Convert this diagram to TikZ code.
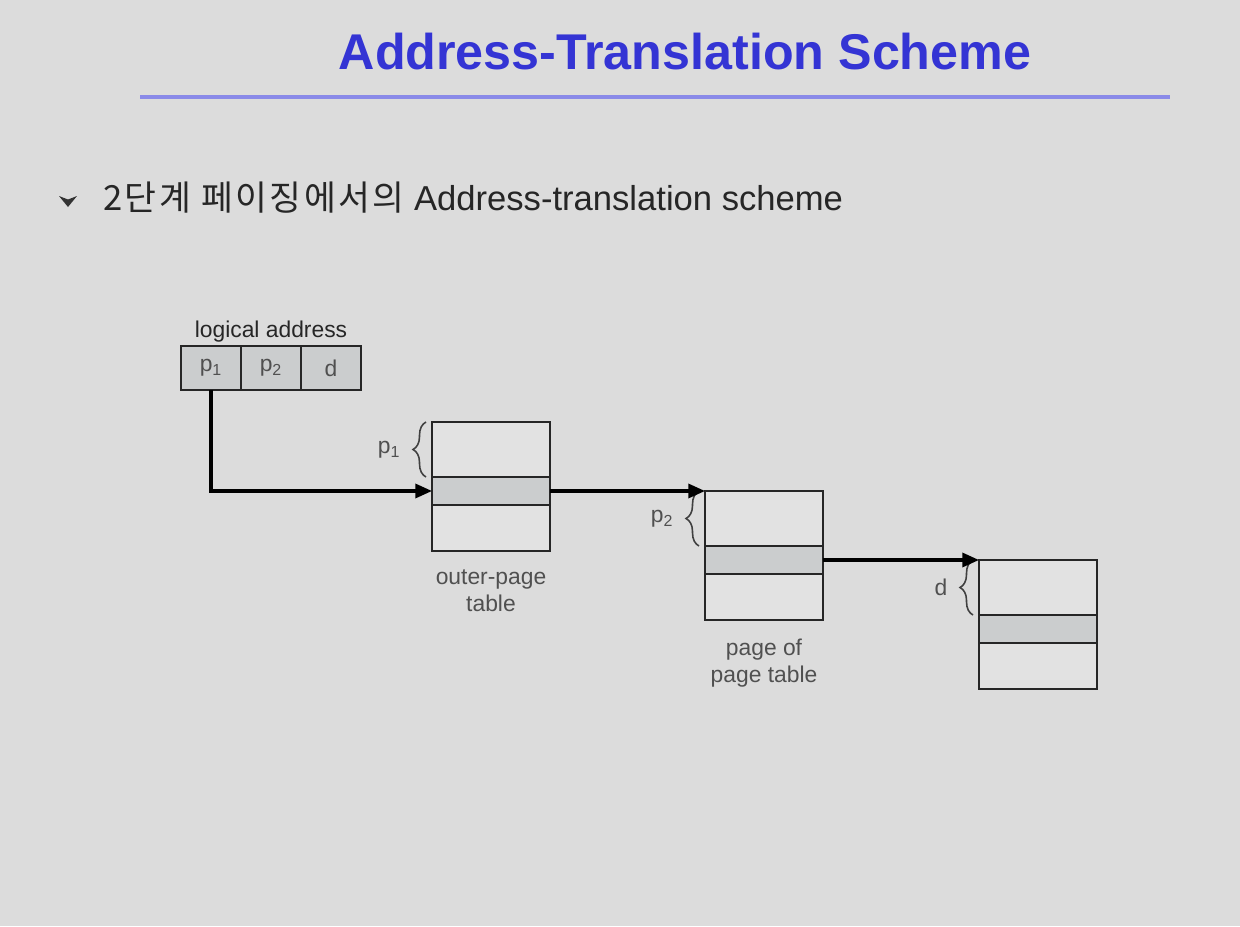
\documentclass[tikz,border=0pt]{standalone}
\usepackage{fontspec}
\setmainfont{Liberation Sans}
\newfontfamily\kor[LetterSpace=7]{Noto Sans CJK KR}
\usetikzlibrary{positioning,arrows.meta,decorations.pathreplacing}
\definecolor{bgcol}{RGB}{220,220,220}
\definecolor{titleblue}{RGB}{52,52,212}
\definecolor{ruleblue}{RGB}{138,138,232}
\definecolor{cellfill}{RGB}{226,226,226}
\definecolor{bandfill}{RGB}{203,205,206}
\definecolor{txtgray}{RGB}{80,80,80}
\begin{document}
\begin{tikzpicture}[x=0.02cm,y=-0.02cm,
    cell/.style={draw=black!85,line width=1.4pt,fill=cellfill,minimum width=2.36cm,inner sep=0pt,outer sep=0pt},
    topcell/.style={cell,minimum height=1.1cm},
    bandcell/.style={cell,fill=bandfill,minimum height=0.56cm},
    botcell/.style={cell,minimum height=0.92cm},
    addrcell/.style={draw=black!85,line width=1.4pt,fill=bandfill,minimum width=1.2cm,minimum height=0.88cm,inner sep=0pt,outer sep=0pt,font=\fontsize{13}{15}\selectfont,text=txtgray},
    lbl/.style={font=\fontsize{13}{15.5}\selectfont,text=txtgray,align=center},
    arr/.style={-{Triangle[length=9.5pt,width=8pt]},line width=1.8pt},
    brace/.style={decorate,decoration={brace,amplitude=0.26cm},line width=0.9pt,draw=black!75}]
    % Background of the slide
    \fill[bgcol] (0,0) rectangle (1240,926);
    
    % Title and rule
    \node[anchor=base,font=\bfseries\fontsize{28.6}{34}\selectfont,text=titleblue] (title) at (685,70) {Address-Translation Scheme};
    \draw[ruleblue,line width=0.08cm] (140,97) -- (1170,97);
    
    % Bullet line
    \fill[black!80] (59,196) -- (68,199.5) -- (77,196) -- (68,207) -- cycle;
    \node[anchor=base west,inner sep=0pt,font=\fontsize{19.7}{24}\selectfont,text=black!85] (bullet) at (103,210) {{\kor 2단계 페이징에서의} Address-translation scheme};
    
    % Logical address
    \node[lbl,text=black!85,anchor=base] (laddr) at (271,337) {logical address};
    \node[addrcell] (p1) at (211,368) {p\textsubscript{1}};
    \node[addrcell,right=0pt of p1] (p2) {p\textsubscript{2}};
    \node[addrcell,right=0pt of p2] (d) {d};
    
    % Three tables
    \foreach \t/\x/\y in {out/491/449.5, pg/764/518.5, off/1038/587.5} {
      \node[topcell] (\t-top) at (\x,\y) {};
      \node[bandcell,below=0pt of \t-top] (\t-band) {};
      \node[botcell,below=0pt of \t-band] (\t-bot) {};
    }
    \node[lbl,below=0.25cm of out-bot] (outlbl) {outer-page\\table};
    \node[lbl,below=0.25cm of pg-bot] (pglbl) {page of\\page table};
    
    % Braces
    \draw[brace] ([xshift=-0.12cm]out-top.south west) -- ([xshift=-0.12cm]out-top.north west)
      node[midway,left=0.38cm,lbl] (p1lbl) {p\textsubscript{1}};
    \draw[brace] ([xshift=-0.12cm]pg-top.south west) -- ([xshift=-0.12cm]pg-top.north west)
      node[midway,left=0.38cm,lbl] (p2lbl) {p\textsubscript{2}};
    \draw[brace] ([xshift=-0.12cm]off-top.south west) -- ([xshift=-0.12cm]off-top.north west)
      node[midway,left=0.38cm,lbl] (dlbl) {d};
    
    % Arrows
    \draw[arr] (p1.south) |- (out-band.west);
    \draw[arr] (out-band.east) -- (out-band.east -| pg-top.west);
    \draw[arr] (pg-band.east) -- (pg-band.east -| off-top.west);
    \end{tikzpicture}
\end{document}
